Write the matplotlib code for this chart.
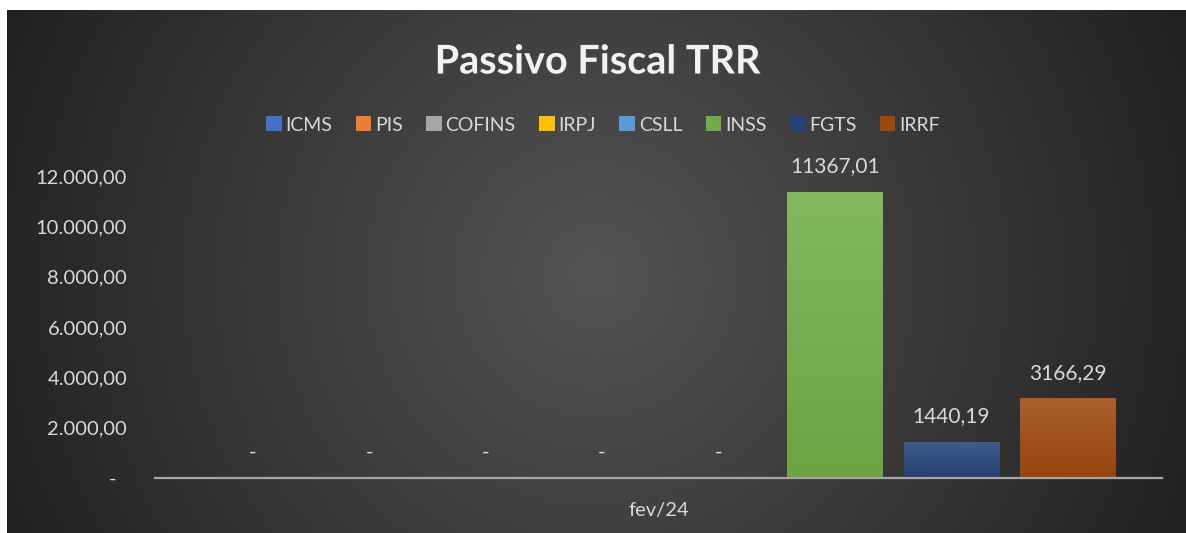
import numpy as np
import matplotlib.pyplot as plt
import matplotlib.patheffects as pe
from matplotlib.colors import to_rgb
from matplotlib.ticker import FuncFormatter

plt.rcParams['font.family'] = ['Lato', 'DejaVu Sans']

series = ['ICMS', 'PIS', 'COFINS', 'IRPJ', 'CSLL', 'INSS', 'FGTS', 'IRRF']
values = [0, 0, 0, 0, 0, 11367.01, 1440.19, 3166.29]
colors = ['#4472C4', '#ED7D31', '#A5A5A5', '#FFC000', '#5B9BD5', '#70AD47', '#264478', '#9E480E']
period = 'fev/24'
yticks = [0, 2000, 4000, 6000, 8000, 10000, 12000]

W, H = 1186, 533
txt = '#d9d9d9'

fig = plt.figure(figsize=(W / 100, H / 100), dpi=100)
fig.patch.set_facecolor('white')

# radial dark background (chart area starts a few px in from top/left)
bg = fig.add_axes([7 / W, 0, 1 - 7 / W, 1 - 10 / H])
yy, xx = np.mgrid[10:H, 7:W]
r = np.hypot(xx - 595, yy - 275) / 640
shade = np.clip(0.33 - 0.2 * r, 0.11, 1)
bg.imshow(np.dstack([shade] * 3), aspect='auto', interpolation='bilinear')
bg.axis('off')

ax = fig.add_axes([155 / W, (H - 478) / H, (1162 - 155) / W, (478 - 126) / H])
ax.set_facecolor('none')

x = np.arange(len(series))
bw = 0.82
bars = ax.bar(x, values, width=bw, color=colors, zorder=2)
for i, (b, v, c) in enumerate(zip(bars, values, colors)):
    if v > 0:
        base = np.array(to_rgb(c))
        top = base + (1 - base) * 0.13
        bot = base * 0.95
        t = np.linspace(0, 1, 64)[:, None]
        grad = top * (1 - t) + bot * t
        im = ax.imshow(grad[:, None, :], extent=[i - bw / 2, i + bw / 2, 0, v],
                       aspect='auto', zorder=3, interpolation='bilinear')
        im.set_clip_path(b)
        b.set_path_effects([pe.SimplePatchShadow(offset=(0, 0), shadow_rgbFace='black', alpha=0.25),
                            pe.Normal()])
        lab = f'{v:.2f}'.replace('.', ',')
    else:
        lab = '-'
    ax.annotate(lab, (i, v), xytext=(0, 18.5), textcoords='offset points',
                ha='center', va='center', color=txt, fontsize=15)

ax.set_xlim(-0.84, len(series) - 1 + 0.81)
ax.set_ylim(0, 14000)
ax.set_yticks(yticks)


def fmt(v, pos):
    if v == 0:
        return '-  '
    return f'{v:,.2f}'.replace(',', 'X').replace('.', ',').replace('X', '.')


ax.yaxis.set_major_formatter(FuncFormatter(fmt))
ax.set_xticks([(ax.get_xlim()[0] + ax.get_xlim()[1]) / 2])
ax.set_xticklabels([period])
ax.tick_params(axis='y', length=0, pad=20, labelcolor=txt, labelsize=14.5)
ax.tick_params(axis='x', length=0, pad=17, labelcolor=txt, labelsize=14.5)
for s in ['top', 'right', 'left']:
    ax.spines[s].set_visible(False)
ax.spines['bottom'].set_color('#a6a6a6')
ax.spines['bottom'].set_linewidth(1.6)
ax.spines['bottom'].set_zorder(4)

fig.text(598 / W, 1 - 62 / H, 'Passivo Fiscal TRR', ha='center', va='center',
         fontsize=28.5, fontweight='bold', color='#f2f2f2',
         path_effects=[pe.withSimplePatchShadow(offset=(1.5, -1.5), alpha=0.5)])

fig.legend(bars, series, loc='center', bbox_to_anchor=(603 / W, 1 - 125 / H), ncol=8,
           frameon=False, handlelength=0.8, handleheight=0.8, handletextpad=0.2,
           columnspacing=1.2, labelcolor=txt, fontsize=14)

fig.savefig('out.png', dpi=100)
